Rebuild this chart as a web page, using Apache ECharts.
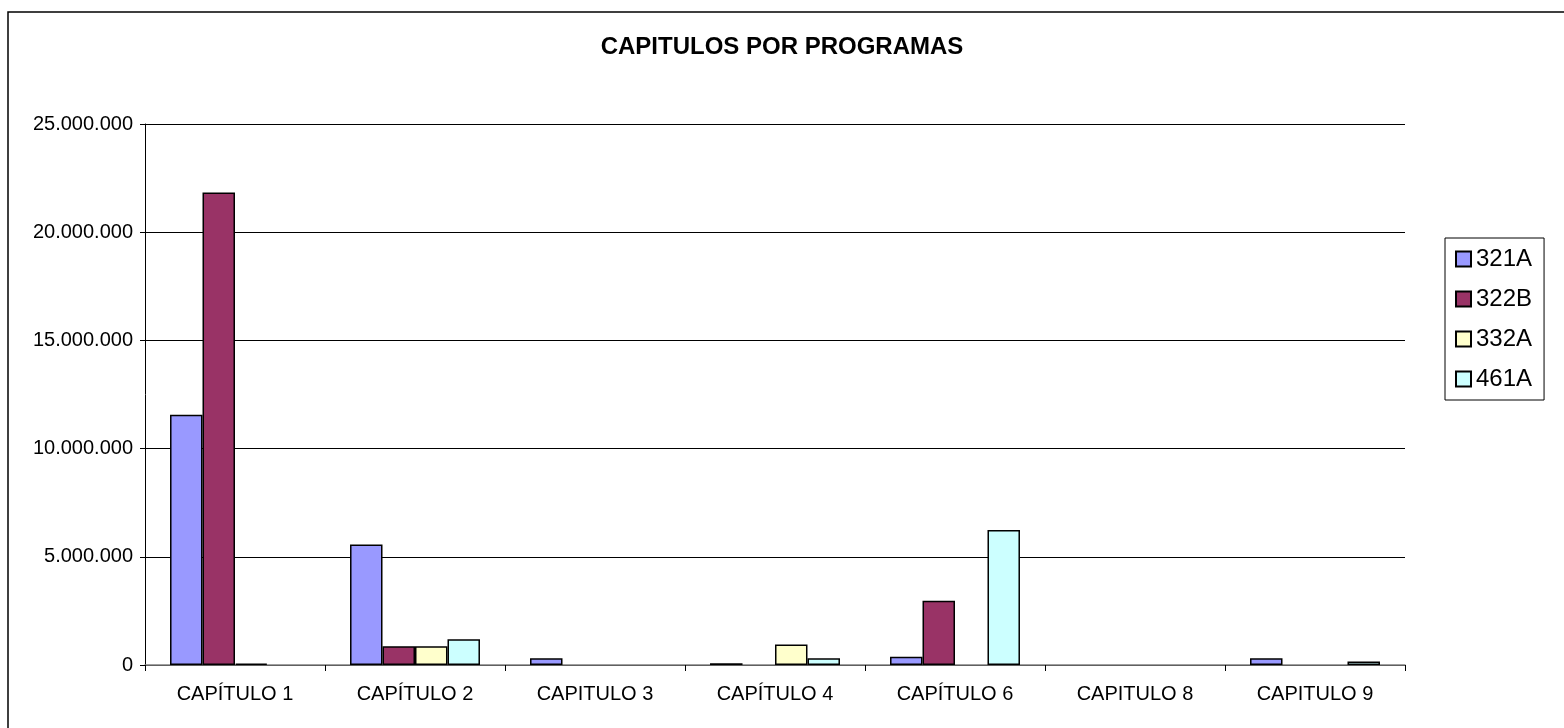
<!DOCTYPE html>
<html>
<head>
<meta charset="utf-8">
<script src="https://cdn.jsdelivr.net/npm/echarts@6/dist/echarts.min.js"></script>
<style>
html,body{margin:0;padding:0;background:#fff;}
#chart{width:1564px;height:728px;}
</style>
</head>
<body>
<div id="chart"></div>
<script>
var categories = ['CAPÍTULO 1', 'CAPÍTULO 2', 'CAPITULO 3', 'CAPÍTULO 4', 'CAPÍTULO 6', 'CAPITULO 8', 'CAPITULO 9'];
var seriesNames = ['321A', '322B', '332A', '461A'];
var values321A = [11570000, 5570000, 310000, 80000, 380000, 0, 310000];
var values322B = [21830000, 870000, 0, 0, 2970000, 0, 0];
var values332A = [60000, 870000, 0, 950000, 0, 0, 0];
var values461A = [0, 1190000, 0, 310000, 6240000, 0, 160000];
var colors = ['#9999FF', '#993366', '#FFFFCC', '#CCFFFF'];
var yTicks = [0, 5000000, 10000000, 15000000, 20000000, 25000000];

function fmt(v) {
  return String(Math.round(v)).replace(/\B(?=(\d{3})+(?!\d))/g, '.');
}
function toData(arr) {
  return arr.map(function (v) { return v === 0 ? '-' : v; });
}
var allValues = [values321A, values322B, values332A, values461A];
var FONT = 'Liberation Sans, Arial, sans-serif';

var chart = echarts.init(document.getElementById('chart'), null, {renderer: 'canvas'});
var option = {
  backgroundColor: '#fff',
  animation: false,
  textStyle: {fontFamily: FONT},
  title: {
    text: 'CAPITULOS POR PROGRAMAS',
    left: 'center',
    top: 30,
    textStyle: {fontSize: 24, fontWeight: 'bold', color: '#000', fontFamily: FONT}
  },
  graphic: [{
    type: 'rect',
    shape: {x: 8, y: 12, width: 1600, height: 800},
    style: {fill: 'none', stroke: '#000', lineWidth: 1.5},
    silent: true,
    z: 100
  }],
  legend: {
    orient: 'vertical',
    left: 1445,
    top: 238,
    padding: [9, 12, 9, 10],
    itemGap: 16,
    itemWidth: 15,
    itemHeight: 15,
    borderColor: '#000',
    borderWidth: 1,
    borderRadius: 0,
    backgroundColor: '#fff',
    textStyle: {fontSize: 24, color: '#000', lineHeight: 24, fontFamily: FONT},
    data: seriesNames.map(function (n) { return {name: n, icon: 'rect'}; })
  },
  grid: {left: 145, right: 159, top: 124, bottom: 63, containLabel: false},
  xAxis: {
    type: 'category',
    data: categories,
    axisLine: {lineStyle: {color: '#808080', width: 1.5}},
    axisTick: {show: true, length: 6, lineStyle: {color: '#000'}},
    axisLabel: {fontSize: 20, color: '#000', margin: 19, interval: 0, fontFamily: FONT},
    splitLine: {show: false}
  },
  yAxis: {
    type: 'value',
    min: 0,
    max: 25000000,
    interval: 5000000,
    axisLine: {show: true, lineStyle: {color: '#000', width: 1}},
    axisTick: {show: true, length: 5, lineStyle: {color: '#000'}},
    axisLabel: {fontSize: 20, color: '#000', margin: 12, formatter: function (v) { return fmt(v); }, fontFamily: FONT},
    splitLine: {show: true, lineStyle: {color: '#000', width: 1}}
  },
  series: seriesNames.map(function (n, i) {
    return {
      name: n,
      type: 'bar',
      data: toData(allValues[i]),
      barGap: '0%',
      barCategoryGap: '27.8%',
      itemStyle: {color: colors[i], borderColor: '#000', borderWidth: 1.5}
    };
  })
};
chart.setOption(option);
</script>
</body>
</html>
